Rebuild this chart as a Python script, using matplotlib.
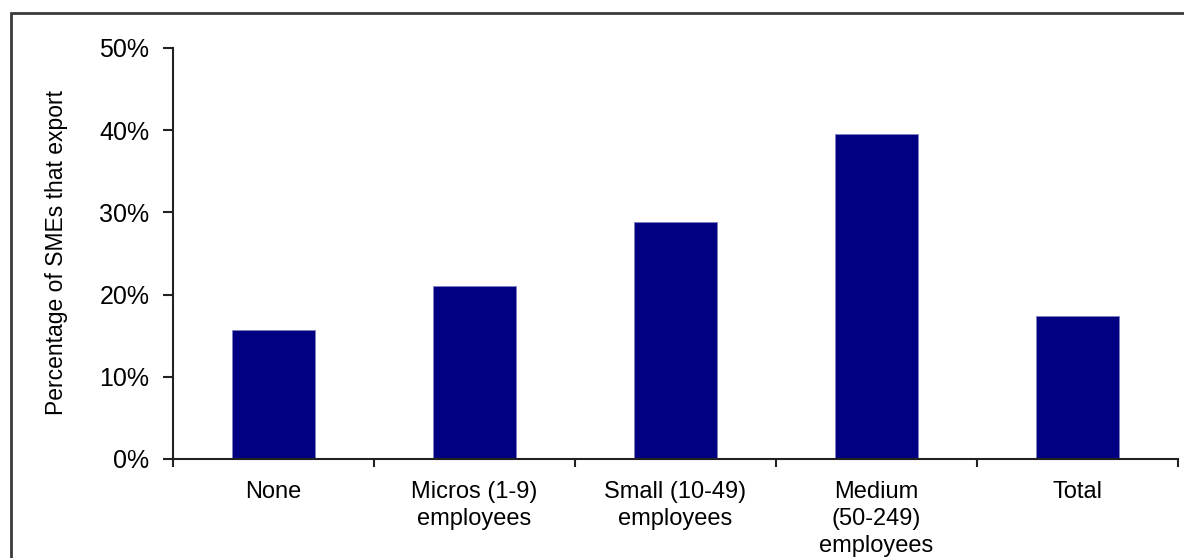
import matplotlib
matplotlib.use('Agg')
import matplotlib.pyplot as plt
from matplotlib.patches import Rectangle
from matplotlib.ticker import FixedLocator

categories = ['None', 'Micros (1-9)\nemployees', 'Small (10-49)\nemployees',
              'Medium\n(50-249)\nemployees', 'Total']
export_share = [15.7, 21.0, 28.8, 39.5, 17.4]  # percent of SMEs
y_ticks = [0, 10, 20, 30, 40, 50]

plt.rcParams['font.family'] = ['Liberation Sans', 'DejaVu Sans']

fig = plt.figure(figsize=(11.84, 5.58), dpi=100)
ax = fig.add_axes([173 / 1184, 99 / 558, 1005 / 1184, 411 / 558])

xs = list(range(len(categories)))
ax.bar(xs, export_share, width=0.41, color='#000080', edgecolor='#7f7fc0', linewidth=0.6)

ax.set_xlim(-0.5, len(categories) - 0.5)
ax.set_ylim(0, 50)
ax.set_yticks(y_ticks)
ax.set_yticklabels(['%d%%' % v for v in y_ticks], fontsize=18)
ax.set_xticks(xs)
ax.set_xticklabels(categories, fontsize=17, linespacing=1.3, va='top')
ax.xaxis.set_minor_locator(FixedLocator([i - 0.5 for i in range(len(categories) + 1)]))
ax.tick_params(axis='x', which='major', length=0, pad=16)
ax.tick_params(axis='x', which='minor', length=6, width=1.5, direction='out', color='#222222')
ax.tick_params(axis='y', length=7, width=1.5, direction='out', color='#222222', pad=10)

for side in ('top', 'right'):
    ax.spines[side].set_visible(False)
for side in ('left', 'bottom'):
    ax.spines[side].set_linewidth(1.5)
    ax.spines[side].set_color('#222222')

ax.set_ylabel('Percentage of SMEs that export', fontsize=16.5)
ax.yaxis.set_label_coords(-0.104, 0.502)

# outer frame, running off the right and bottom edges
fig.patches.append(Rectangle((11 / 1184, -0.1), 1.2, 1 - 13 / 558 + 0.1,
                             transform=fig.transFigure, fill=False,
                             edgecolor='#3a3a3a', linewidth=2))

fig.savefig('out.png', dpi=100)
